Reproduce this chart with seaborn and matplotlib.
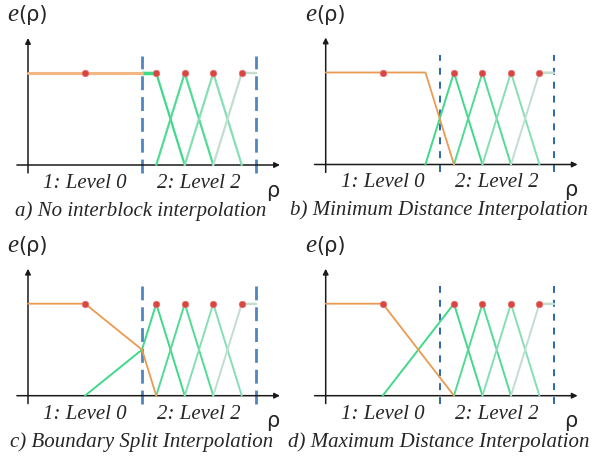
import matplotlib
matplotlib.use("Agg")
import matplotlib.pyplot as plt
import seaborn as sns
import pandas as pd

sns.set_theme(style="white")
plt.rcParams["font.family"] = ["Liberation Serif", "DejaVu Sans"]
plt.rcParams["lines.scale_dashes"] = False

# --- data (schematic basis functions, x in cell units, y = weight) ---
panel_ids = ["a", "b", "c", "d"]
captions = [
    "a) No interblock interpolation",
    "b) Minimum Distance Interpolation",
    "c) Boundary Split Interpolation",
    "d) Maximum Distance Interpolation",
]
block_edges = [4, 8]
level0_center = [2]
level2_centers = [4.5, 5.5, 6.5, 7.5]

# level-0 (orange) curve per panel
orange_x = {"a": [0, 4], "b": [0, 3.5, 4.5], "c": [0, 2, 4, 4.5], "d": [0, 2, 4.5]}
orange_y = {"a": [1, 1], "b": [1, 1, 0], "c": [1, 1, 0.5, 0], "d": [1, 1, 0]}

# first level-2 basis (touches the block boundary) per panel
green0_x = {"a": [4, 4.5, 5.5], "b": [3.5, 4.5, 5.5], "c": [2, 4, 4.5, 5.5], "d": [2, 4.5, 5.5]}
green0_y = {"a": [1, 1, 0], "b": [0, 1, 0], "c": [0, 0.5, 1, 0], "d": [0, 1, 0]}

# remaining level-2 basis functions (same in every panel)
green_x = [[4.5, 5.5, 6.5], [5.5, 6.5, 7.5], [6.5, 7.5, 8]]
green_y = [[0, 1, 0], [0, 1, 0], [0, 1, 1]]

green_colors = ["#40d98a", "#52db95", "#86dfb4", "#c3ddd0"]

# pixel layout: origin of each panel (px), px per unit
W, H = 593, 459
origins = {"a": (28, 165), "b": (325.7, 164.5), "c": (28, 395.7), "d": (325.7, 395.7)}
ux, uy = 28.5, 92.0

fig = plt.figure(figsize=(W / 100, H / 100), dpi=100)

for pid, cap in zip(panel_ids, captions):
    x0, y0 = origins[pid]
    left, right = x0 - 28, x0 + 262
    top, bottom = y0 - 165, y0 + 63
    ax = fig.add_axes([left / W, (H - bottom) / H, (right - left) / W, (bottom - top) / H])
    ax.set_xlim(-28 / ux, 262 / ux)
    ax.set_ylim(-63 / uy, 165 / uy)
    ax.axis("off")

    thin = pid != "a"
    blue = "#4f86c0" if pid in ("a", "c") else "#1d5aa6"
    blw = 2.0 if pid in ("a", "c") else 1.3
    bdash = (10, 5) if pid in ("a", "c") else (5, 5)
    for xe in block_edges:
        ax.plot([xe, xe], [-0.086, 1.19], color=blue, lw=blw, dashes=bdash, zorder=2)

    # axes arrows
    ax.annotate("", xy=(8.84, 0), xytext=(-0.39, 0),
                arrowprops=dict(arrowstyle="-|>", color="#1a1a1a", lw=1.1,
                                mutation_scale=8, shrinkA=0, shrinkB=0))
    ax.annotate("", xy=(0, 1.38), xytext=(0, -0.086),
                arrowprops=dict(arrowstyle="-|>", color="#1a1a1a", lw=1.1,
                                mutation_scale=8, shrinkA=0, shrinkB=0))

    # green basis functions
    gx = [green0_x[pid]] + green_x
    gy = [green0_y[pid]] + green_y
    for i, (xs, ys) in enumerate(zip(gx, gy)):
        df = pd.DataFrame({"x": xs, "y": ys})
        sns.lineplot(data=df, x="x", y="y", ax=ax, sort=False, estimator=None,
                     color=green_colors[i], lw=1.6 if not thin else 1.4, zorder=3)
    if pid == "a":
        ax.plot([4, 4.5], [1, 1], color=green_colors[0], lw=2.5, zorder=3)
    ax.plot([7.5, 8], [1, 1], color=green_colors[3], lw=1.6, zorder=3)

    # orange level-0 function
    df = pd.DataFrame({"x": orange_x[pid], "y": orange_y[pid]})
    sns.lineplot(data=df, x="x", y="y", ax=ax, sort=False, estimator=None,
                 color="#f2b683" if pid == "a" else "#eb9a52",
                 lw=2.2 if pid == "a" else 1.3, zorder=4)

    # sample points
    pts = pd.DataFrame({"x": level0_center + level2_centers, "y": [1] * 5})
    sns.scatterplot(data=pts, x="x", y="y", ax=ax, color="#d9453f", s=22,
                    edgecolor="#e07070", linewidth=0.5, zorder=5)

    ax.set_xlabel("")
    ax.set_ylabel("")
    ax.axis("off")

    # texts
    ax.text(-0.72, 1.63, "e", fontsize=18, style="italic", ha="left", va="center")
    ax.text(-0.34, 1.63, "(ρ)", fontsize=15, family=["DejaVu Sans"], ha="left",
            va="center")
    ax.text(8.6, -0.28, "ρ", fontsize=15, family=["DejaVu Sans"], ha="center",
            va="center")
    ax.text(2, -0.2, "1: Level 0", fontsize=15, style="italic", ha="center",
            va="center")
    ax.text(6, -0.2, "2: Level 2", fontsize=15, style="italic", ha="center",
            va="center")
    ax.text(3.97, -0.5, cap, fontsize=15, style="italic", ha="center",
            va="center", clip_on=False)

fig.savefig("out.png", dpi=100)
